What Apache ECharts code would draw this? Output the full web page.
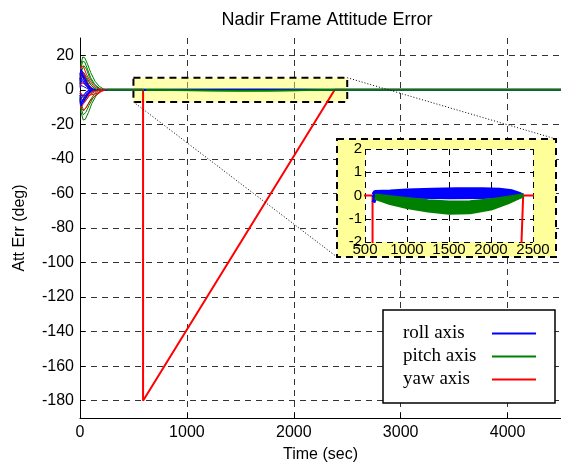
<!DOCTYPE html>
<html>
<head>
<meta charset="utf-8">
<script src="https://cdn.jsdelivr.net/npm/echarts@6/dist/echarts.min.js"></script>
<style>
html,body{margin:0;padding:0;background:#fff}
#main{width:561px;height:468px}
</style>
</head>
<body>
<div id="main"></div>
<script>
// axis ticks
var xTicks = [0, 1000, 2000, 3000, 4000];
var yTicks = [-180, -160, -140, -120, -100, -80, -60, -40, -20, 0, 20];
var insetXTicks = [500, 1000, 1500, 2000, 2500];
var insetYTicks = [-2, -1, 0, 1, 2];
var zoomBox = [500, 2500, -7, 7];   // t0, t1, y0, y1

// initial transients, [time, deg]
var pitchTransients = [
  [[0,6],[10,15],[25,19],[45,18.5],[70,15],[100,10],[140,5],[180,2],[220,0.5],[250,0]],
  [[0,-5],[10,-13],[30,-17.5],[50,-17],[80,-13],[110,-8],[150,-3.5],[190,-1],[230,0]],
  [[0,5],[10,13],[25,16.5],[45,16],[70,12],[100,7],[140,3],[190,0.5],[230,0]],
  [[0,-4],[12,-11],[30,-14.5],[55,-13],[85,-9],[120,-5],[160,-2],[200,0]],
  [[0,3],[15,11],[35,14],[60,12],[90,7],[130,3],[170,1],[210,0]],
  [[0,-3],[15,-9],[35,-12],[60,-10],[95,-6],[140,-2],[180,0]],
  [[0,2],[20,7],[45,8],[75,5],[120,1.5],[160,0]],
  [[0,-2],[20,-6],[45,-7],[80,-4],[120,-1],[160,0]],
  [[0,4],[15,9],[35,10],[65,7],[100,3],[150,0]],
  [[0,-1],[20,-4],[45,-4.5],[80,-2],[130,0]]
];
var yawTransients = [
  [[0,9],[15,14],[35,13],[60,9],[95,5],[130,2],[170,0.5],[210,0]],
  [[0,-6],[15,-11],[35,-12],[60,-10],[100,-6],[150,-3],[200,-1],[240,0]],
  [[0,4],[20,8],[45,7],[80,3],[120,0]],
  [[0,-3],[20,-6],[50,-5],[90,-2],[140,0]],
  [[0,6],[10,10],[30,10],[55,6],[90,2],[130,0]],
  [[0,-8],[12,-10],[30,-9],[55,-6],[90,-3],[140,-1],[190,0]],
  [[0,2],[15,4],[40,3.5],[70,1.5],[110,0]],
  [[0,-1],[20,-3],[50,-3.5],[100,-3],[160,-2],[200,-0.5],[230,0]]
];
var rollTransients = [
  [[0,8],[10,12],[25,11],[45,8],[70,4],[100,1.5],[140,0]],
  [[0,-6],[10,-9],[25,-9.5],[45,-6],[75,-3],[110,-1],[150,0]],
  [[0,5],[12,9],[30,7],[55,4],[85,1.5],[120,0]],
  [[0,-4],[12,-7],[30,-6],[55,-3],[85,-1],[120,0]],
  [[0,2],[15,5],[35,4],[60,2],[95,0]],
  [[0,-2],[15,-3.5],[35,-3],[60,-1],[95,0]],
  [[0,10],[8,11],[20,9],[40,5],[70,2],[110,0]],
  [[0,-8],[8,-8.5],[22,-7],[45,-4],[75,-1.5],[115,0]],
  [[0,6],[10,10],[25,10],[45,6.5],[75,3],[110,0.5],[140,0]],
  [[0,-5],[10,-8],[25,-8],[50,-5],[80,-2],[120,0]],
  [[0,3],[10,7],[25,6],[50,3],[80,1],[110,0]],
  [[0,-3],[10,-5],[25,-4.5],[50,-2.5],[80,-0.5],[110,0]],
  [[0,1],[10,2.5],[30,2],[60,1],[90,0]],
  [[0,9],[10,11.5],[22,10.5],[40,7],[65,3.5],[100,1],[135,0]],
  [[0,-7],[10,-9.5],[25,-8.5],[45,-5.5],[75,-2],[115,0]]
];

// settled parts
var rollSettled = [[140,0],[4500,0]];
var pitchSettled = [[250,0],[4500,0]];
var yawPath = [[210,0],[590,0],[590,-180],[2383,0],[4500,0]];

// slew bands (seen in the zoom inset)
var rollBand = [
  [[600,0.05],[620,0.15],[800,0.17],[1000,0.21],[1300,0.25],[1600,0.27],[1900,0.27],[2100,0.25],[2250,0.18],[2330,0.08],[2380,0]],
  [[600,0.02],[620,0.11],[850,0.13],[1100,0.16],[1400,0.19],[1700,0.2],[2000,0.19],[2200,0.13],[2330,0.05],[2380,0]],
  [[600,0],[620,0.07],[900,0.09],[1200,0.11],[1500,0.13],[1800,0.14],[2100,0.12],[2300,0.05],[2380,0]],
  [[600,-0.1],[620,0.02],[900,0.03],[1200,0.04],[1500,0.05],[1800,0.05],[2100,0.04],[2300,0.02],[2380,0]],
  [[600,-0.3],[625,-0.05],[800,-0.04],[1100,-0.05],[1500,-0.07],[1900,-0.06],[2200,-0.02],[2380,0]]
];
var pitchBand = [
  [[620,0],[800,-0.07],[1000,-0.15],[1250,-0.25],[1500,-0.3],[1750,-0.29],[2000,-0.2],[2200,-0.1],[2380,0]],
  [[620,-0.02],[800,-0.13],[1000,-0.23],[1250,-0.35],[1500,-0.41],[1750,-0.39],[2000,-0.29],[2200,-0.15],[2380,0]],
  [[620,-0.05],[800,-0.2],[1000,-0.32],[1250,-0.45],[1500,-0.52],[1750,-0.5],[2000,-0.38],[2200,-0.2],[2380,0]],
  [[620,-0.07],[800,-0.26],[1000,-0.41],[1250,-0.55],[1500,-0.63],[1750,-0.61],[2000,-0.47],[2200,-0.25],[2380,0]],
  [[620,-0.1],[800,-0.33],[1000,-0.5],[1250,-0.65],[1500,-0.74],[1750,-0.72],[2000,-0.56],[2200,-0.3],[2380,0]]
];

var BLUE = '#0000ff', GREEN = '#008000', RED = '#ff0000';
var SANS = 'Liberation Sans, Arial, sans-serif';

function line(name, data, color, width, idx, z) {
  return {
    name: name, type: 'line', data: data,
    xAxisIndex: idx, yAxisIndex: idx,
    symbol: 'none', showSymbol: false, animation: false,
    lineStyle: { color: color, width: width },
    itemStyle: { color: color },
    z: z, silent: true
  };
}

var series = [];
// zoom box in the main plot
series.push({
  type: 'line', data: [], xAxisIndex: 0, yAxisIndex: 0, z: 1, silent: true,
  markArea: {
    silent: true,
    itemStyle: { color: 'rgba(255,255,80,0.45)', borderColor: '#000', borderWidth: 2, borderType: [7, 5] },
    data: [[{ coord: [zoomBox[0], zoomBox[3]] }, { coord: [zoomBox[1], zoomBox[2]] }]]
  }
});
series.push(line('yaw axis', yawPath, RED, 2, 0, 2));
series.push(line('roll axis', rollSettled, BLUE, 2, 0, 2));
series.push(line('pitch axis', pitchSettled, GREEN, 2, 0, 2));
pitchTransients.forEach(function (d) { series.push(line('pitch axis', d, GREEN, 1, 0, 2)); });
for (var i = 0; i < Math.max(rollTransients.length, yawTransients.length); i++) {
  if (yawTransients[i]) series.push(line('yaw axis', yawTransients[i], RED, 1, 0, 2));
  if (rollTransients[i]) series.push(line('roll axis', rollTransients[i], BLUE, 1, 0, 2));
}
rollBand.forEach(function (d) { series.push(line('roll axis', d, BLUE, 1, 0, 2)); });
pitchBand.forEach(function (d) { series.push(line('pitch axis', d, GREEN, 1, 0, 2)); });

// inset
series.push(line('yaw axis', yawPath, RED, 2, 1, 13));
rollBand.forEach(function (d) { series.push(line('roll axis', d, BLUE, 4, 1, 13)); });
pitchBand.forEach(function (d) { series.push(line('pitch axis', d, GREEN, 4, 1, 13)); });

var plain = function (v) { return String(v); };

var chart = echarts.init(document.getElementById('main'));

var option = {
  animation: false,
  backgroundColor: '#fff',
  title: {
    text: 'Nadir Frame Attitude Error',
    left: 322, top: 6, textAlign: 'center',
    textStyle: { fontFamily: SANS, fontSize: 18, fontWeight: 'normal', color: '#000' }
  },
  legend: {
    data: ['roll axis', 'pitch axis', 'yaw axis'],
    orient: 'vertical', left: 383, top: 310,
    align: 'right', itemWidth: 44, itemHeight: 20, itemGap: 4, itemTextGap: 5,
    padding: [14, 18, 14, 20],
    backgroundColor: '#fff', borderColor: '#000', borderWidth: 1.5, borderRadius: 0,
    selectedMode: false, z: 20,
    itemStyle: { opacity: 0 },
    lineStyle: { width: 2 },
    formatter: '{a|{name}}',
    textStyle: {
      fontFamily: 'Liberation Serif, Times New Roman, serif', fontSize: 19, color: '#000',
      rich: { a: { width: 84, align: 'left', fontFamily: 'Liberation Serif, Times New Roman, serif', fontSize: 19, lineHeight: 20 } }
    }
  },
  grid: [
    { left: 80, right: 0, top: 38, bottom: 50, show: false },
    { left: 365, top: 149, width: 168, height: 93, show: true, backgroundColor: '#fff', borderWidth: 0, z: 11 }
  ],
  xAxis: [
    {
      type: 'value', gridIndex: 0, min: 0, max: 4500, interval: 1000,
      name: 'Time (sec)', nameLocation: 'middle', nameGap: 29,
      nameTextStyle: { fontFamily: SANS, fontSize: 16, color: '#000' },
      axisLine: { show: true, onZero: false, lineStyle: { color: '#000', width: 1 } },
      axisTick: { show: true, inside: true, length: 5, lineStyle: { color: '#000' } },
      axisLabel: { fontFamily: SANS, fontSize: 16, color: '#000', margin: 7, showMaxLabel: false, formatter: plain },
      splitLine: { show: true, lineStyle: { color: '#333', width: 1, type: [6, 5] } }
    },
    {
      type: 'value', gridIndex: 1, min: 500, max: 2500, interval: 500, z: 12,
      axisLine: { show: false },
      axisTick: { show: false },
      axisLabel: { fontFamily: SANS, fontSize: 15, color: '#000', margin: 0, formatter: plain },
      splitLine: { show: true, lineStyle: { color: '#000', width: 1, type: [6, 5] } }
    }
  ],
  yAxis: [
    {
      type: 'value', gridIndex: 0, min: -190, max: 30,
      name: 'Att Err (deg)', nameLocation: 'middle', nameGap: 52, nameRotate: 90,
      nameTextStyle: { fontFamily: SANS, fontSize: 16, color: '#000' },
      axisLine: { show: true, onZero: false, lineStyle: { color: '#000', width: 1 } },
      axisTick: { show: true, inside: true, length: 5, customValues: yTicks, lineStyle: { color: '#000' } },
      axisLabel: { fontFamily: SANS, fontSize: 16, color: '#000', margin: 6, customValues: yTicks, formatter: plain },
      splitLine: { show: true, lineStyle: { color: '#333', width: 1, type: [6, 5] } }
    },
    {
      type: 'value', gridIndex: 1, min: -2, max: 2, interval: 1, z: 12,
      axisLine: { show: false },
      axisTick: { show: false },
      axisLabel: { fontFamily: SANS, fontSize: 15, color: '#000', margin: 3, formatter: plain },
      splitLine: { show: true, lineStyle: { color: '#000', width: 1, type: [6, 5] } }
    }
  ],
  series: series
};
chart.setOption(option);

// inset frame and the dotted connectors
var insetFrame = { x: 337, y: 139, w: 219, h: 118 };
var bl = chart.convertToPixel({ gridIndex: 0 }, [zoomBox[0], zoomBox[2]]);
var tr = chart.convertToPixel({ gridIndex: 0 }, [zoomBox[1], zoomBox[3]]);
chart.setOption({
  graphic: [
    {
      type: 'rect', z: 10, silent: true,
      shape: { x: insetFrame.x, y: insetFrame.y, width: insetFrame.w, height: insetFrame.h },
      style: { fill: '#ffff99', stroke: '#000', lineWidth: 2, lineDash: [7, 5] }
    },
    {
      type: 'line', z: 9, silent: true,
      shape: { x1: bl[0], y1: bl[1], x2: insetFrame.x, y2: insetFrame.y + insetFrame.h },
      style: { stroke: '#000', lineWidth: 1, lineDash: [1, 2] }
    },
    {
      type: 'line', z: 9, silent: true,
      shape: { x1: tr[0], y1: tr[1], x2: insetFrame.x + insetFrame.w, y2: insetFrame.y },
      style: { stroke: '#000', lineWidth: 1, lineDash: [1, 2] }
    }
  ]
});
</script>
</body>
</html>
